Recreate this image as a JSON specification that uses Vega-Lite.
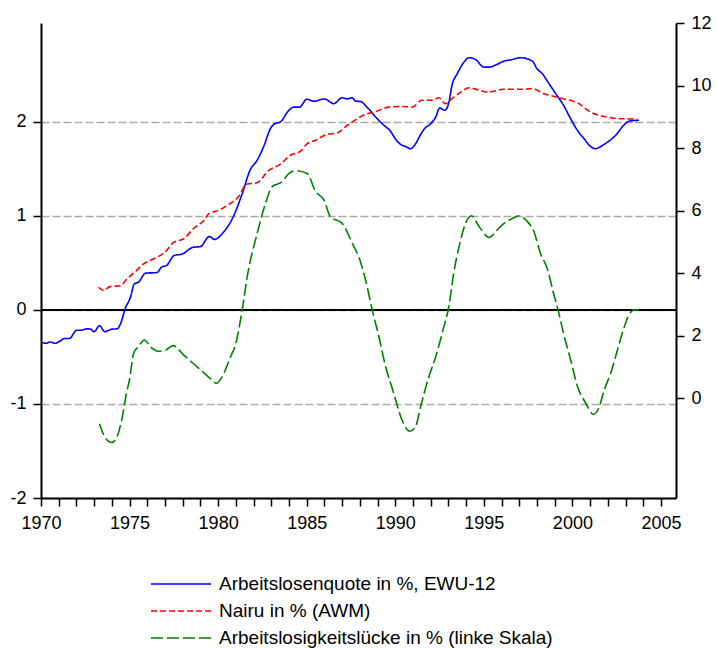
{
  "$schema": "https://vega.github.io/schema/vega-lite/v6.json",
  "autosize": "none",
  "padding": {"left": 41, "top": 23, "right": 41, "bottom": 150},
  "width": 635,
  "height": 475,
  "config": {
    "view": {"stroke": null},
    "axis": {"labelFont": "Liberation Sans", "labelColor": "black", "labelFontSize": 18, "domainColor": "black", "domainWidth": 2, "tickColor": "black", "tickWidth": 1.5, "tickSize": 8, "labelOverlap": false, "labelFlush": false, "title": null},
    "axisX": {"grid": false},
    "legend": {"labelFont": "Liberation Sans", "labelFontSize": 19, "labelColor": "black", "labelLimit": 700, "padding": 0}
  },
  "datasets": {
    "rhs": [
      {"t":1970.0,"v":1.79,"s":"Arbeitslosenquote in %, EWU-12"},
      {"t":1970.3,"v":1.76,"s":"Arbeitslosenquote in %, EWU-12"},
      {"t":1970.5,"v":1.80,"s":"Arbeitslosenquote in %, EWU-12"},
      {"t":1970.8,"v":1.76,"s":"Arbeitslosenquote in %, EWU-12"},
      {"t":1971.1,"v":1.84,"s":"Arbeitslosenquote in %, EWU-12"},
      {"t":1971.3,"v":1.91,"s":"Arbeitslosenquote in %, EWU-12"},
      {"t":1971.6,"v":1.91,"s":"Arbeitslosenquote in %, EWU-12"},
      {"t":1972.0,"v":2.17,"s":"Arbeitslosenquote in %, EWU-12"},
      {"t":1972.3,"v":2.18,"s":"Arbeitslosenquote in %, EWU-12"},
      {"t":1972.6,"v":2.22,"s":"Arbeitslosenquote in %, EWU-12"},
      {"t":1972.8,"v":2.21,"s":"Arbeitslosenquote in %, EWU-12"},
      {"t":1973.0,"v":2.13,"s":"Arbeitslosenquote in %, EWU-12"},
      {"t":1973.3,"v":2.32,"s":"Arbeitslosenquote in %, EWU-12"},
      {"t":1973.6,"v":2.13,"s":"Arbeitslosenquote in %, EWU-12"},
      {"t":1974.0,"v":2.21,"s":"Arbeitslosenquote in %, EWU-12"},
      {"t":1974.3,"v":2.22,"s":"Arbeitslosenquote in %, EWU-12"},
      {"t":1974.5,"v":2.40,"s":"Arbeitslosenquote in %, EWU-12"},
      {"t":1974.75,"v":2.86,"s":"Arbeitslosenquote in %, EWU-12"},
      {"t":1975.05,"v":3.23,"s":"Arbeitslosenquote in %, EWU-12"},
      {"t":1975.27,"v":3.66,"s":"Arbeitslosenquote in %, EWU-12"},
      {"t":1975.5,"v":3.71,"s":"Arbeitslosenquote in %, EWU-12"},
      {"t":1975.9,"v":4.00,"s":"Arbeitslosenquote in %, EWU-12"},
      {"t":1976.55,"v":4.02,"s":"Arbeitslosenquote in %, EWU-12"},
      {"t":1976.8,"v":4.19,"s":"Arbeitslosenquote in %, EWU-12"},
      {"t":1977.1,"v":4.25,"s":"Arbeitslosenquote in %, EWU-12"},
      {"t":1977.5,"v":4.56,"s":"Arbeitslosenquote in %, EWU-12"},
      {"t":1978.0,"v":4.62,"s":"Arbeitslosenquote in %, EWU-12"},
      {"t":1978.6,"v":4.83,"s":"Arbeitslosenquote in %, EWU-12"},
      {"t":1979.0,"v":4.85,"s":"Arbeitslosenquote in %, EWU-12"},
      {"t":1979.5,"v":5.17,"s":"Arbeitslosenquote in %, EWU-12"},
      {"t":1979.8,"v":5.08,"s":"Arbeitslosenquote in %, EWU-12"},
      {"t":1980.3,"v":5.31,"s":"Arbeitslosenquote in %, EWU-12"},
      {"t":1980.8,"v":5.74,"s":"Arbeitslosenquote in %, EWU-12"},
      {"t":1981.36,"v":6.54,"s":"Arbeitslosenquote in %, EWU-12"},
      {"t":1981.8,"v":7.29,"s":"Arbeitslosenquote in %, EWU-12"},
      {"t":1982.2,"v":7.61,"s":"Arbeitslosenquote in %, EWU-12"},
      {"t":1982.6,"v":8.09,"s":"Arbeitslosenquote in %, EWU-12"},
      {"t":1982.95,"v":8.62,"s":"Arbeitslosenquote in %, EWU-12"},
      {"t":1983.2,"v":8.78,"s":"Arbeitslosenquote in %, EWU-12"},
      {"t":1983.5,"v":8.83,"s":"Arbeitslosenquote in %, EWU-12"},
      {"t":1984.0,"v":9.21,"s":"Arbeitslosenquote in %, EWU-12"},
      {"t":1984.27,"v":9.31,"s":"Arbeitslosenquote in %, EWU-12"},
      {"t":1984.6,"v":9.31,"s":"Arbeitslosenquote in %, EWU-12"},
      {"t":1985.0,"v":9.56,"s":"Arbeitslosenquote in %, EWU-12"},
      {"t":1985.4,"v":9.50,"s":"Arbeitslosenquote in %, EWU-12"},
      {"t":1986.0,"v":9.57,"s":"Arbeitslosenquote in %, EWU-12"},
      {"t":1986.53,"v":9.42,"s":"Arbeitslosenquote in %, EWU-12"},
      {"t":1987.0,"v":9.61,"s":"Arbeitslosenquote in %, EWU-12"},
      {"t":1987.3,"v":9.57,"s":"Arbeitslosenquote in %, EWU-12"},
      {"t":1987.57,"v":9.61,"s":"Arbeitslosenquote in %, EWU-12"},
      {"t":1987.76,"v":9.50,"s":"Arbeitslosenquote in %, EWU-12"},
      {"t":1988.04,"v":9.49,"s":"Arbeitslosenquote in %, EWU-12"},
      {"t":1988.4,"v":9.31,"s":"Arbeitslosenquote in %, EWU-12"},
      {"t":1988.98,"v":8.94,"s":"Arbeitslosenquote in %, EWU-12"},
      {"t":1989.36,"v":8.73,"s":"Arbeitslosenquote in %, EWU-12"},
      {"t":1989.73,"v":8.54,"s":"Arbeitslosenquote in %, EWU-12"},
      {"t":1990.0,"v":8.30,"s":"Arbeitslosenquote in %, EWU-12"},
      {"t":1990.3,"v":8.12,"s":"Arbeitslosenquote in %, EWU-12"},
      {"t":1990.58,"v":8.05,"s":"Arbeitslosenquote in %, EWU-12"},
      {"t":1990.86,"v":7.98,"s":"Arbeitslosenquote in %, EWU-12"},
      {"t":1991.15,"v":8.14,"s":"Arbeitslosenquote in %, EWU-12"},
      {"t":1991.43,"v":8.43,"s":"Arbeitslosenquote in %, EWU-12"},
      {"t":1991.65,"v":8.62,"s":"Arbeitslosenquote in %, EWU-12"},
      {"t":1992.0,"v":8.78,"s":"Arbeitslosenquote in %, EWU-12"},
      {"t":1992.3,"v":9.01,"s":"Arbeitslosenquote in %, EWU-12"},
      {"t":1992.5,"v":9.28,"s":"Arbeitslosenquote in %, EWU-12"},
      {"t":1992.8,"v":9.21,"s":"Arbeitslosenquote in %, EWU-12"},
      {"t":1993.03,"v":9.47,"s":"Arbeitslosenquote in %, EWU-12"},
      {"t":1993.2,"v":10.0,"s":"Arbeitslosenquote in %, EWU-12"},
      {"t":1993.5,"v":10.38,"s":"Arbeitslosenquote in %, EWU-12"},
      {"t":1993.88,"v":10.75,"s":"Arbeitslosenquote in %, EWU-12"},
      {"t":1994.16,"v":10.89,"s":"Arbeitslosenquote in %, EWU-12"},
      {"t":1994.54,"v":10.83,"s":"Arbeitslosenquote in %, EWU-12"},
      {"t":1995.0,"v":10.59,"s":"Arbeitslosenquote in %, EWU-12"},
      {"t":1995.3,"v":10.59,"s":"Arbeitslosenquote in %, EWU-12"},
      {"t":1995.76,"v":10.68,"s":"Arbeitslosenquote in %, EWU-12"},
      {"t":1996.14,"v":10.78,"s":"Arbeitslosenquote in %, EWU-12"},
      {"t":1996.5,"v":10.82,"s":"Arbeitslosenquote in %, EWU-12"},
      {"t":1997.1,"v":10.89,"s":"Arbeitslosenquote in %, EWU-12"},
      {"t":1997.74,"v":10.78,"s":"Arbeitslosenquote in %, EWU-12"},
      {"t":1998.0,"v":10.54,"s":"Arbeitslosenquote in %, EWU-12"},
      {"t":1998.3,"v":10.38,"s":"Arbeitslosenquote in %, EWU-12"},
      {"t":1998.68,"v":10.06,"s":"Arbeitslosenquote in %, EWU-12"},
      {"t":1999.06,"v":9.74,"s":"Arbeitslosenquote in %, EWU-12"},
      {"t":1999.5,"v":9.37,"s":"Arbeitslosenquote in %, EWU-12"},
      {"t":1999.9,"v":8.94,"s":"Arbeitslosenquote in %, EWU-12"},
      {"t":2000.28,"v":8.57,"s":"Arbeitslosenquote in %, EWU-12"},
      {"t":2000.66,"v":8.30,"s":"Arbeitslosenquote in %, EWU-12"},
      {"t":2001.03,"v":8.05,"s":"Arbeitslosenquote in %, EWU-12"},
      {"t":2001.3,"v":7.98,"s":"Arbeitslosenquote in %, EWU-12"},
      {"t":2001.6,"v":8.05,"s":"Arbeitslosenquote in %, EWU-12"},
      {"t":2001.98,"v":8.19,"s":"Arbeitslosenquote in %, EWU-12"},
      {"t":2002.45,"v":8.41,"s":"Arbeitslosenquote in %, EWU-12"},
      {"t":2002.9,"v":8.73,"s":"Arbeitslosenquote in %, EWU-12"},
      {"t":2003.2,"v":8.86,"s":"Arbeitslosenquote in %, EWU-12"},
      {"t":2003.76,"v":8.89,"s":"Arbeitslosenquote in %, EWU-12"},
      {"t":1973.25,"v":3.55,"s":"Nairu in % (AWM)"},
      {"t":1973.54,"v":3.45,"s":"Nairu in % (AWM)"},
      {"t":1973.9,"v":3.57,"s":"Nairu in % (AWM)"},
      {"t":1974.48,"v":3.60,"s":"Nairu in % (AWM)"},
      {"t":1974.86,"v":3.82,"s":"Nairu in % (AWM)"},
      {"t":1975.4,"v":4.09,"s":"Nairu in % (AWM)"},
      {"t":1975.8,"v":4.30,"s":"Nairu in % (AWM)"},
      {"t":1976.36,"v":4.46,"s":"Nairu in % (AWM)"},
      {"t":1977.0,"v":4.67,"s":"Nairu in % (AWM)"},
      {"t":1977.5,"v":4.99,"s":"Nairu in % (AWM)"},
      {"t":1978.06,"v":5.10,"s":"Nairu in % (AWM)"},
      {"t":1978.6,"v":5.42,"s":"Nairu in % (AWM)"},
      {"t":1979.2,"v":5.69,"s":"Nairu in % (AWM)"},
      {"t":1979.5,"v":5.92,"s":"Nairu in % (AWM)"},
      {"t":1980.0,"v":6.00,"s":"Nairu in % (AWM)"},
      {"t":1980.6,"v":6.20,"s":"Nairu in % (AWM)"},
      {"t":1981.16,"v":6.45,"s":"Nairu in % (AWM)"},
      {"t":1981.6,"v":6.84,"s":"Nairu in % (AWM)"},
      {"t":1982.2,"v":6.89,"s":"Nairu in % (AWM)"},
      {"t":1982.86,"v":7.29,"s":"Nairu in % (AWM)"},
      {"t":1983.5,"v":7.48,"s":"Nairu in % (AWM)"},
      {"t":1984.08,"v":7.77,"s":"Nairu in % (AWM)"},
      {"t":1984.65,"v":7.90,"s":"Nairu in % (AWM)"},
      {"t":1985.03,"v":8.14,"s":"Nairu in % (AWM)"},
      {"t":1985.5,"v":8.25,"s":"Nairu in % (AWM)"},
      {"t":1986.16,"v":8.44,"s":"Nairu in % (AWM)"},
      {"t":1986.7,"v":8.48,"s":"Nairu in % (AWM)"},
      {"t":1987.3,"v":8.73,"s":"Nairu in % (AWM)"},
      {"t":1987.85,"v":8.94,"s":"Nairu in % (AWM)"},
      {"t":1988.42,"v":9.10,"s":"Nairu in % (AWM)"},
      {"t":1988.8,"v":9.15,"s":"Nairu in % (AWM)"},
      {"t":1989.64,"v":9.31,"s":"Nairu in % (AWM)"},
      {"t":1990.4,"v":9.33,"s":"Nairu in % (AWM)"},
      {"t":1990.96,"v":9.31,"s":"Nairu in % (AWM)"},
      {"t":1991.5,"v":9.53,"s":"Nairu in % (AWM)"},
      {"t":1992.1,"v":9.53,"s":"Nairu in % (AWM)"},
      {"t":1992.46,"v":9.61,"s":"Nairu in % (AWM)"},
      {"t":1992.84,"v":9.42,"s":"Nairu in % (AWM)"},
      {"t":1993.2,"v":9.58,"s":"Nairu in % (AWM)"},
      {"t":1993.7,"v":9.79,"s":"Nairu in % (AWM)"},
      {"t":1994.16,"v":9.93,"s":"Nairu in % (AWM)"},
      {"t":1994.63,"v":9.87,"s":"Nairu in % (AWM)"},
      {"t":1995.2,"v":9.79,"s":"Nairu in % (AWM)"},
      {"t":1996.14,"v":9.88,"s":"Nairu in % (AWM)"},
      {"t":1997.1,"v":9.88,"s":"Nairu in % (AWM)"},
      {"t":1997.74,"v":9.90,"s":"Nairu in % (AWM)"},
      {"t":1998.4,"v":9.74,"s":"Nairu in % (AWM)"},
      {"t":1999.24,"v":9.61,"s":"Nairu in % (AWM)"},
      {"t":2000.37,"v":9.42,"s":"Nairu in % (AWM)"},
      {"t":2001.03,"v":9.15,"s":"Nairu in % (AWM)"},
      {"t":2001.98,"v":8.99,"s":"Nairu in % (AWM)"},
      {"t":2002.73,"v":8.94,"s":"Nairu in % (AWM)"},
      {"t":2003.67,"v":8.93,"s":"Nairu in % (AWM)"}
    ],
    "lhs": [
      {"t":1973.3,"v":-1.21,"s":"Arbeitslosigkeitslücke in % (linke Skala)"},
      {"t":1973.63,"v":-1.36,"s":"Arbeitslosigkeitslücke in % (linke Skala)"},
      {"t":1974.0,"v":-1.41,"s":"Arbeitslosigkeitslücke in % (linke Skala)"},
      {"t":1974.33,"v":-1.33,"s":"Arbeitslosigkeitslücke in % (linke Skala)"},
      {"t":1974.58,"v":-1.15,"s":"Arbeitslosigkeitslücke in % (linke Skala)"},
      {"t":1974.82,"v":-0.89,"s":"Arbeitslosigkeitslücke in % (linke Skala)"},
      {"t":1975.0,"v":-0.74,"s":"Arbeitslosigkeitslücke in % (linke Skala)"},
      {"t":1975.23,"v":-0.46,"s":"Arbeitslosigkeitslücke in % (linke Skala)"},
      {"t":1975.5,"v":-0.39,"s":"Arbeitslosigkeitslücke in % (linke Skala)"},
      {"t":1975.84,"v":-0.32,"s":"Arbeitslosigkeitslücke in % (linke Skala)"},
      {"t":1976.17,"v":-0.39,"s":"Arbeitslosigkeitslücke in % (linke Skala)"},
      {"t":1976.64,"v":-0.44,"s":"Arbeitslosigkeitslücke in % (linke Skala)"},
      {"t":1977.0,"v":-0.43,"s":"Arbeitslosigkeitslücke in % (linke Skala)"},
      {"t":1977.46,"v":-0.38,"s":"Arbeitslosigkeitslücke in % (linke Skala)"},
      {"t":1978.06,"v":-0.48,"s":"Arbeitslosigkeitslücke in % (linke Skala)"},
      {"t":1978.6,"v":-0.57,"s":"Arbeitslosigkeitslücke in % (linke Skala)"},
      {"t":1979.2,"v":-0.67,"s":"Arbeitslosigkeitslücke in % (linke Skala)"},
      {"t":1979.56,"v":-0.73,"s":"Arbeitslosigkeitslücke in % (linke Skala)"},
      {"t":1979.9,"v":-0.78,"s":"Arbeitslosigkeitslücke in % (linke Skala)"},
      {"t":1980.28,"v":-0.69,"s":"Arbeitslosigkeitslücke in % (linke Skala)"},
      {"t":1980.7,"v":-0.50,"s":"Arbeitslosigkeitslücke in % (linke Skala)"},
      {"t":1980.98,"v":-0.37,"s":"Arbeitslosigkeitslücke in % (linke Skala)"},
      {"t":1981.36,"v":0.0,"s":"Arbeitslosigkeitslücke in % (linke Skala)"},
      {"t":1981.64,"v":0.35,"s":"Arbeitslosigkeitslücke in % (linke Skala)"},
      {"t":1982.2,"v":0.81,"s":"Arbeitslosigkeitslücke in % (linke Skala)"},
      {"t":1982.67,"v":1.13,"s":"Arbeitslosigkeitslücke in % (linke Skala)"},
      {"t":1983.05,"v":1.31,"s":"Arbeitslosigkeitslücke in % (linke Skala)"},
      {"t":1983.6,"v":1.36,"s":"Arbeitslosigkeitslücke in % (linke Skala)"},
      {"t":1984.0,"v":1.45,"s":"Arbeitslosigkeitslücke in % (linke Skala)"},
      {"t":1984.37,"v":1.48,"s":"Arbeitslosigkeitslücke in % (linke Skala)"},
      {"t":1985.03,"v":1.45,"s":"Arbeitslosigkeitslücke in % (linke Skala)"},
      {"t":1985.5,"v":1.26,"s":"Arbeitslosigkeitslücke in % (linke Skala)"},
      {"t":1985.97,"v":1.17,"s":"Arbeitslosigkeitslücke in % (linke Skala)"},
      {"t":1986.34,"v":0.99,"s":"Arbeitslosigkeitslücke in % (linke Skala)"},
      {"t":1987.0,"v":0.92,"s":"Arbeitslosigkeitslücke in % (linke Skala)"},
      {"t":1987.57,"v":0.71,"s":"Arbeitslosigkeitslücke in % (linke Skala)"},
      {"t":1988.04,"v":0.51,"s":"Arbeitslosigkeitslücke in % (linke Skala)"},
      {"t":1988.32,"v":0.32,"s":"Arbeitslosigkeitslücke in % (linke Skala)"},
      {"t":1988.7,"v":0.0,"s":"Arbeitslosigkeitslücke in % (linke Skala)"},
      {"t":1989.07,"v":-0.28,"s":"Arbeitslosigkeitslücke in % (linke Skala)"},
      {"t":1989.45,"v":-0.60,"s":"Arbeitslosigkeitslücke in % (linke Skala)"},
      {"t":1989.92,"v":-0.89,"s":"Arbeitslosigkeitslücke in % (linke Skala)"},
      {"t":1990.3,"v":-1.13,"s":"Arbeitslosigkeitslücke in % (linke Skala)"},
      {"t":1990.83,"v":-1.29,"s":"Arbeitslosigkeitslücke in % (linke Skala)"},
      {"t":1991.15,"v":-1.24,"s":"Arbeitslosigkeitslücke in % (linke Skala)"},
      {"t":1991.43,"v":-1.03,"s":"Arbeitslosigkeitslücke in % (linke Skala)"},
      {"t":1991.9,"v":-0.71,"s":"Arbeitslosigkeitslücke in % (linke Skala)"},
      {"t":1992.28,"v":-0.50,"s":"Arbeitslosigkeitslücke in % (linke Skala)"},
      {"t":1992.7,"v":-0.21,"s":"Arbeitslosigkeitslücke in % (linke Skala)"},
      {"t":1993.03,"v":0.04,"s":"Arbeitslosigkeitslücke in % (linke Skala)"},
      {"t":1993.3,"v":0.39,"s":"Arbeitslosigkeitslücke in % (linke Skala)"},
      {"t":1993.65,"v":0.71,"s":"Arbeitslosigkeitslücke in % (linke Skala)"},
      {"t":1993.97,"v":0.92,"s":"Arbeitslosigkeitslücke in % (linke Skala)"},
      {"t":1994.3,"v":1.00,"s":"Arbeitslosigkeitslücke in % (linke Skala)"},
      {"t":1994.72,"v":0.89,"s":"Arbeitslosigkeitslücke in % (linke Skala)"},
      {"t":1995.29,"v":0.77,"s":"Arbeitslosigkeitslücke in % (linke Skala)"},
      {"t":1995.76,"v":0.85,"s":"Arbeitslosigkeitslücke in % (linke Skala)"},
      {"t":1996.14,"v":0.92,"s":"Arbeitslosigkeitslücke in % (linke Skala)"},
      {"t":1996.6,"v":0.97,"s":"Arbeitslosigkeitslücke in % (linke Skala)"},
      {"t":1997.0,"v":1.00,"s":"Arbeitslosigkeitslücke in % (linke Skala)"},
      {"t":1997.46,"v":0.94,"s":"Arbeitslosigkeitslücke in % (linke Skala)"},
      {"t":1997.83,"v":0.83,"s":"Arbeitslosigkeitslücke in % (linke Skala)"},
      {"t":1998.2,"v":0.60,"s":"Arbeitslosigkeitslücke in % (linke Skala)"},
      {"t":1998.6,"v":0.43,"s":"Arbeitslosigkeitslücke in % (linke Skala)"},
      {"t":1998.93,"v":0.18,"s":"Arbeitslosigkeitslücke in % (linke Skala)"},
      {"t":1999.19,"v":0.0,"s":"Arbeitslosigkeitslücke in % (linke Skala)"},
      {"t":1999.5,"v":-0.25,"s":"Arbeitslosigkeitslücke in % (linke Skala)"},
      {"t":1999.9,"v":-0.53,"s":"Arbeitslosigkeitslücke in % (linke Skala)"},
      {"t":2000.28,"v":-0.81,"s":"Arbeitslosigkeitslücke in % (linke Skala)"},
      {"t":2000.75,"v":-0.99,"s":"Arbeitslosigkeitslücke in % (linke Skala)"},
      {"t":2001.19,"v":-1.11,"s":"Arbeitslosigkeitslücke in % (linke Skala)"},
      {"t":2001.5,"v":-1.04,"s":"Arbeitslosigkeitslücke in % (linke Skala)"},
      {"t":2001.8,"v":-0.85,"s":"Arbeitslosigkeitslücke in % (linke Skala)"},
      {"t":2002.17,"v":-0.67,"s":"Arbeitslosigkeitslücke in % (linke Skala)"},
      {"t":2002.54,"v":-0.43,"s":"Arbeitslosigkeitslücke in % (linke Skala)"},
      {"t":2002.88,"v":-0.21,"s":"Arbeitslosigkeitslücke in % (linke Skala)"},
      {"t":2003.2,"v":-0.05,"s":"Arbeitslosigkeitslücke in % (linke Skala)"},
      {"t":2003.48,"v":0.0,"s":"Arbeitslosigkeitslücke in % (linke Skala)"},
      {"t":2003.76,"v":0.0,"s":"Arbeitslosigkeitslücke in % (linke Skala)"}
    ],
    "zero": [{"t": 1970, "v": 0}, {"t": 2005.85, "v": 0}]
  },
  "encoding": {
    "x": {"field": "t", "type": "quantitative", "scale": {"domain": [1970, 2005.85], "nice": false, "zero": false},
          "axis": {"values": [1970,1971,1972,1973,1974,1975,1976,1977,1978,1979,1980,1981,1982,1983,1984,1985,1986,1987,1988,1989,1990,1991,1992,1993,1994,1995,1996,1997,1998,1999,2000,2001,2002,2003,2004,2005], "format": "d", "labelExpr": "datum.value % 5 === 0 ? datum.label : ''", "labelPadding": 8, "grid": false, "zindex": 2}}
  },
  "layer": [
    {
      "layer": [
        {
          "data": {"name": "zero"},
          "mark": {"type": "line", "color": "black", "strokeWidth": 2},
          "encoding": {
            "y": {"field": "v", "type": "quantitative", "scale": {"domain": [-2, 3.05], "nice": false, "zero": false},
                  "axis": {"values": [-2,-1,0,1,2], "labelExpr": "datum.value < 0 ? '-' + abs(datum.value) : '' + datum.value", "grid": true, "gridColor": "#aaaaaa", "gridDash": [8,3], "gridWidth": 1.5, "labelPadding": 7, "zindex": 0}}
          }
        },
        {
          "data": {"name": "lhs"},
          "mark": {"type": "line", "strokeWidth": 1.6, "interpolate": "monotone"},
          "encoding": {
            "y": {"field": "v", "type": "quantitative", "scale": {"domain": [-2, 3.05], "nice": false, "zero": false},
                  "axis": {"values": [-2,-1,0,1,2], "labelExpr": "datum.value < 0 ? '-' + abs(datum.value) : '' + datum.value", "grid": true, "gridColor": "#aaaaaa", "gridDash": [8,3], "gridWidth": 1.5, "labelPadding": 7, "zindex": 0}},
            "color": {"field": "s", "type": "nominal", "title": null,
                      "scale": {"domain": ["Arbeitslosenquote in %, EWU-12", "Nairu in % (AWM)", "Arbeitslosigkeitslücke in % (linke Skala)"], "range": ["#0000ff", "#ff0000", "#008000"]},
                      "legend": {"orient": "none", "legendX": 109, "legendY": 550, "symbolType": "M-3,0H3", "symbolSize": 400, "symbolOffset": 20, "symbolStrokeWidth": 1.6, "labelOffset": 27, "rowPadding": 6}},
            "strokeDash": {"field": "s", "type": "nominal", "title": null,
                      "scale": {"domain": ["Arbeitslosenquote in %, EWU-12", "Nairu in % (AWM)", "Arbeitslosigkeitslücke in % (linke Skala)"], "range": [[1,0],[6,3],[12,4]]},
                      "legend": {"orient": "none", "legendX": 109, "legendY": 550, "symbolType": "M-3,0H3", "symbolSize": 400, "symbolOffset": 20, "symbolStrokeWidth": 1.6, "labelOffset": 27, "rowPadding": 6}}
          }
        }
      ]
    },
    {
      "data": {"name": "rhs"},
      "mark": {"type": "line", "strokeWidth": 1.6, "interpolate": "monotone"},
      "encoding": {
        "y": {"field": "v", "type": "quantitative", "scale": {"domain": [-3.19, 12], "nice": false, "zero": false},
              "axis": {"orient": "right", "values": [0,2,4,6,8,10,12], "grid": false, "labelPadding": 7, "zindex": 2}},
        "color": {"field": "s", "type": "nominal", "title": null},
        "strokeDash": {"field": "s", "type": "nominal", "title": null}
      }
    }
  ],
  "resolve": {"scale": {"y": "independent"}}
}
